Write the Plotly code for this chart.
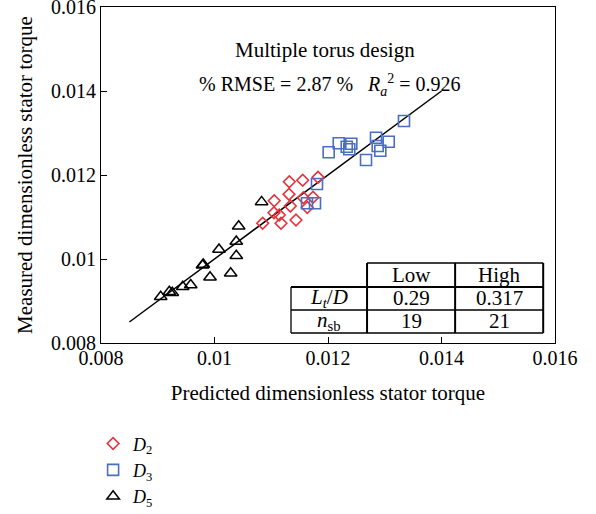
import plotly.graph_objects as go

# ---- data ----
d2_pred = [0.011824, 0.011554, 0.011318, 0.011313, 0.011052, 0.011336, 0.011565,
           0.011736, 0.011635, 0.011048, 0.011142, 0.011436, 0.011172, 0.010849]
d2_meas = [0.011945, 0.011874, 0.011838, 0.011543, 0.011386, 0.011262, 0.011460,
           0.011471, 0.011226, 0.011102, 0.011048, 0.010929, 0.010850, 0.010850]

d3_pred = [0.013339, 0.012846, 0.013070, 0.012876, 0.012922, 0.012670, 0.012411,
           0.012330, 0.012375, 0.012189, 0.012012, 0.011806, 0.011630, 0.011771]
d3_meas = [0.013286, 0.012888, 0.012793, 0.012690, 0.012579, 0.012357, 0.012745,
           0.012674, 0.012612, 0.012755, 0.012540, 0.011786, 0.011326, 0.011326]

d5_pred = [0.010830, 0.010426, 0.010384, 0.010384, 0.010079, 0.009803, 0.009789,
           0.009921, 0.010285, 0.009581, 0.009440, 0.009256, 0.009204, 0.009052]
d5_meas = [0.011360, 0.010779, 0.010417, 0.010079, 0.010226, 0.009869, 0.009852,
           0.009564, 0.009660, 0.009381, 0.009340, 0.009198, 0.009221, 0.009102]

fit_x = [0.0085, 0.014]
fit_y = [0.0085, 0.014]

tick_vals = [0.008, 0.010, 0.012, 0.014, 0.016]
tick_text = ["0.008", "0.01", "0.012", "0.014", "0.016"]

table_cols = ["", "Low", "High"]
table_rows = [["<i>L<sub>t</sub></i>/<i>D</i>", "0.29", "0.317"],
              ["<i>n</i><sub>sb</sub>", "19", "21"]]

FONT = "Liberation Serif"

fig = go.Figure()
fig.add_trace(go.Scatter(x=fit_x, y=fit_y, mode="lines",
                         line=dict(color="black", width=1.5), showlegend=False))
fig.add_trace(go.Scatter(x=d2_pred, y=d2_meas, mode="markers", name="<i>D</i><sub>2</sub>",
                         marker=dict(symbol="diamond-open", size=9, color="#e8323a",
                                     line=dict(width=1.6))))
fig.add_trace(go.Scatter(x=d3_pred, y=d3_meas, mode="markers", name="<i>D</i><sub>3</sub>",
                         marker=dict(symbol="square-open", size=11, color="#4a6fc0",
                                     line=dict(width=1.6))))
fig.add_trace(go.Scatter(x=d5_pred, y=d5_meas, mode="markers", name="<i>D</i><sub>5</sub>",
                         marker=dict(symbol="triangle-up-open", size=11, color="black",
                                     line=dict(width=1.5))))

# ---- table drawn in axis-domain coordinates ----
X0, X1, X2, X3 = 0.4185, 0.586, 0.780, 0.974
Y0, Y1, Y2, Y3 = 0.0298, 0.0982, 0.1667, 0.2381
shapes = []
def seg(xa, ya, xb, yb, w=1.3):
    shapes.append(dict(type="line", xref="x domain", yref="y domain",
                       x0=xa, y0=ya, x1=xb, y1=yb, line=dict(color="black", width=w)))
# horizontal
seg(X1, Y3, X3, Y3)
seg(X0, Y2, X3, Y2, 2)
seg(X0, Y1, X3, Y1)
seg(X0, Y0, X3, Y0)
# vertical
seg(X0, Y0, X0, Y2)
seg(X1, Y0, X1, Y3, 2)
seg(X2, Y0, X2, Y3, 2)
seg(X3, Y0, X3, Y3, 2)

annotations = []
col_centers = [(X0 + X1) / 2, (X1 + X2) / 2, (X2 + X3) / 2]
row_centers = [(Y2 + Y3) / 2, (Y1 + Y2) / 2, (Y0 + Y1) / 2]
all_rows = [table_cols] + table_rows
for r, row in enumerate(all_rows):
    for c, txt in enumerate(row):
        if txt:
            annotations.append(dict(xref="x domain", yref="y domain", x=col_centers[c],
                                    y=row_centers[r], text=txt, showarrow=False,
                                    font=dict(family=FONT, size=21, color="black"),
                                    xanchor="center", yanchor="middle"))

annotations.append(dict(xref="x domain", yref="y domain", x=0.493, y=0.914,
                        text="Multiple torus design", showarrow=False,
                        font=dict(family=FONT, size=21, color="black")))
annotations.append(dict(xref="x domain", yref="y domain", x=0.504, y=0.815,
                        text="% RMSE = 2.87 %   <i>R</i><sub><i>a</i></sub><sup>2</sup> = 0.926",
                        showarrow=False, font=dict(family=FONT, size=20, color="black")))

axis_common = dict(showline=True, mirror=True, linecolor="black", linewidth=1.2,
                   ticks="inside", ticklen=6, tickcolor="black", showgrid=False,
                   zeroline=False, tickvals=tick_vals, ticktext=tick_text,
                   ticklabeloverflow="allow", automargin=False,
                   range=[0.008, 0.016], tickfont=dict(family=FONT, size=20, color="black"))

fig.update_layout(
    width=596, height=514,
    margin=dict(l=101, r=41, t=7, b=171, autoexpand=False),
    plot_bgcolor="white", paper_bgcolor="white",
    font=dict(family=FONT, size=20, color="black"),
    xaxis=dict(**axis_common, ticklabelstandoff=-3,
               title=dict(text="Predicted dimensionless stator torque", standoff=17,
                          font=dict(family=FONT, size=21))),
    yaxis=dict(**axis_common,
               title=dict(text="Measured dimensionless stator torque", standoff=12,
                          font=dict(family=FONT, size=21))),
    legend=dict(x=-0.0174, y=-0.245, xanchor="left", yanchor="top",
                font=dict(family=FONT, size=18, color="black"),
                bgcolor="rgba(0,0,0,0)", tracegroupgap=0),
    shapes=shapes, annotations=annotations,
)

# remove the browser's default 8px body margin so the figure sits at the page origin
fig.write_html("out.html", config={"displayModeBar": False},
               post_script="document.body.style.margin='0';")
